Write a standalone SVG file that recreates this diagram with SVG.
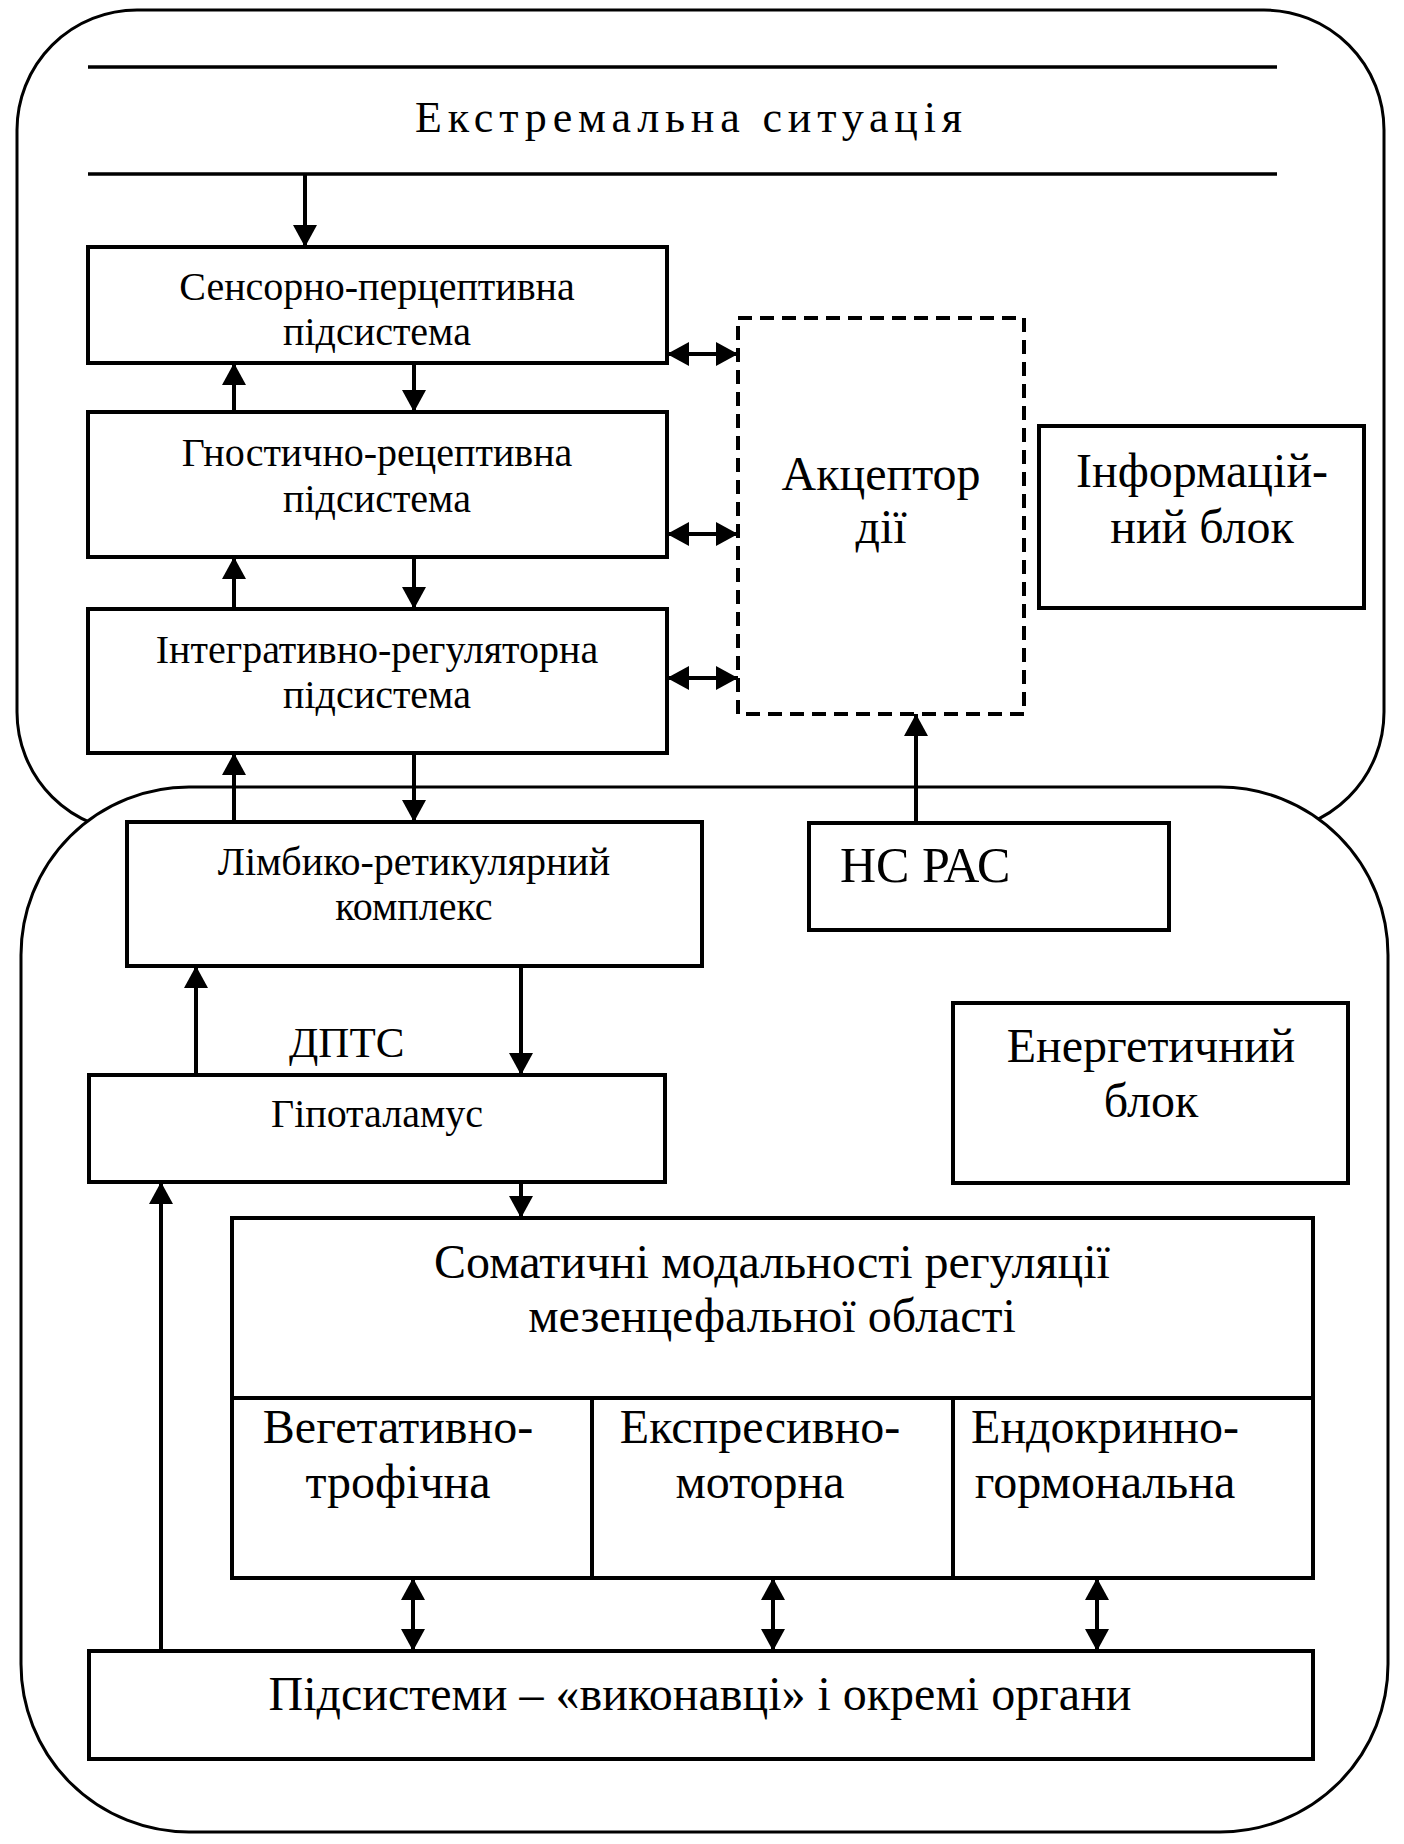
<svg xmlns="http://www.w3.org/2000/svg" width="1404" height="1844" viewBox="0 0 1404 1844">
  <style>
    .frame { fill: #fff; stroke: #000; stroke-width: 3; }
    .box { fill: #fff; stroke: #000; stroke-width: 4; }
    .dash { fill: none; stroke: #000; stroke-width: 4; stroke-dasharray: 14 8; }
    .rule { stroke: #000; stroke-width: 3.5; }
    .con { stroke: #000; stroke-width: 4; fill: none; }
    text { font-family: "Liberation Serif", "Times New Roman", serif; fill: #000; }
    .s { font-size: 40px; text-anchor: middle; }
    .m { font-size: 48px; text-anchor: middle; }
    .l { font-size: 48px; text-anchor: middle; }
  </style>
  <defs>
    <marker id="ah" markerUnits="userSpaceOnUse" markerWidth="24" markerHeight="24" refX="22" refY="12" orient="auto-start-reverse">
      <path d="M0,0 L22,12 L0,24 z" fill="#000"/>
    </marker>
  </defs>

  <g id="frame-top">
    <rect class="frame" x="17" y="10" width="1367" height="822" rx="120" ry="120"/>
  </g>
  <g id="frame-bottom">
    <rect class="frame" x="21" y="787" width="1367" height="1045" rx="168" ry="168"/>
  </g>

  <g id="situation">
    <line class="rule" x1="88" y1="67" x2="1277" y2="67"/>
    <line class="rule" x1="88" y1="174" x2="1277" y2="174"/>
    <text x="415" y="132" font-size="44" textLength="547" lengthAdjust="spacing">Екстремальна ситуація</text>
  </g>

  <g id="sensory">
    <rect class="box" x="88" y="247" width="579" height="116"/>
    <text class="s" x="377" y="300">Сенсорно-перцептивна</text>
    <text class="s" x="377" y="345">підсистема</text>
  </g>
  <g id="gnostic">
    <rect class="box" x="88" y="412" width="579" height="145"/>
    <text class="s" x="377" y="466">Гностично-рецептивна</text>
    <text class="s" x="377" y="512">підсистема</text>
  </g>
  <g id="integrative">
    <rect class="box" x="88" y="609" width="579" height="144"/>
    <text class="s" x="377" y="663">Інтегративно-регуляторна</text>
    <text class="s" x="377" y="708">підсистема</text>
  </g>
  <g id="acceptor">
    <rect class="dash" x="738" y="318" width="286" height="396"/>
    <text class="l" x="881" y="490">Акцептор</text>
    <text class="l" x="881" y="543">дії</text>
  </g>
  <g id="info-block">
    <rect class="box" x="1039" y="426" width="325" height="182"/>
    <text class="l" x="1202" y="487">Інформацій-</text>
    <text class="l" x="1202" y="543">ний блок</text>
  </g>
  <g id="limbic">
    <rect class="box" x="127" y="822" width="575" height="144"/>
    <text class="s" x="414" y="875">Лімбико-ретикулярний</text>
    <text class="s" x="414" y="920">комплекс</text>
  </g>
  <g id="ns-ras">
    <rect class="box" x="809" y="823" width="360" height="107"/>
    <text x="840" y="882" font-size="50">НС РАС</text>
  </g>
  <g id="dpts">
    <text x="289" y="1057" font-size="43">ДПТС</text>
  </g>
  <g id="hypothalamus">
    <rect class="box" x="89" y="1075" width="576" height="107"/>
    <text class="s" x="377" y="1127">Гіпоталамус</text>
  </g>
  <g id="energy-block">
    <rect class="box" x="953" y="1003" width="395" height="180"/>
    <text class="m" x="1151" y="1062">Енергетичний</text>
    <text class="m" x="1151" y="1117">блок</text>
  </g>
  <g id="somatic">
    <rect class="box" x="232" y="1218" width="1081" height="360"/>
    <line class="con" x1="232" y1="1398" x2="1313" y2="1398"/>
    <line class="con" x1="592" y1="1398" x2="592" y2="1578"/>
    <line class="con" x1="953" y1="1398" x2="953" y2="1578"/>
    <text class="m" x="772" y="1278">Соматичні модальності регуляції</text>
    <text class="m" x="772" y="1332">мезенцефальної області</text>
    <text class="m" x="398" y="1443">Вегетативно-</text>
    <text class="m" x="398" y="1498">трофічна</text>
    <text class="m" x="760" y="1443">Експресивно-</text>
    <text class="m" x="760" y="1498">моторна</text>
    <text class="m" x="1105" y="1443">Ендокринно-</text>
    <text class="m" x="1105" y="1498">гормональна</text>
  </g>
  <g id="executors">
    <rect class="box" x="89" y="1651" width="1224" height="108"/>
    <text class="m" x="700" y="1710">Підсистеми – «виконавці» і окремі органи</text>
  </g>

  <g id="connectors">
    <line class="con" x1="305" y1="174" x2="305" y2="247" marker-end="url(#ah)"/>
    <line class="con" x1="234" y1="412" x2="234" y2="363" marker-end="url(#ah)"/>
    <line class="con" x1="414" y1="363" x2="414" y2="412" marker-end="url(#ah)"/>
    <line class="con" x1="234" y1="609" x2="234" y2="557" marker-end="url(#ah)"/>
    <line class="con" x1="414" y1="557" x2="414" y2="609" marker-end="url(#ah)"/>
    <line class="con" x1="234" y1="822" x2="234" y2="753" marker-end="url(#ah)"/>
    <line class="con" x1="414" y1="753" x2="414" y2="822" marker-end="url(#ah)"/>
    <line class="con" x1="667" y1="354" x2="738" y2="354" marker-start="url(#ah)" marker-end="url(#ah)"/>
    <line class="con" x1="667" y1="534" x2="738" y2="534" marker-start="url(#ah)" marker-end="url(#ah)"/>
    <line class="con" x1="667" y1="678" x2="738" y2="678" marker-start="url(#ah)" marker-end="url(#ah)"/>
    <line class="con" x1="916" y1="823" x2="916" y2="714" marker-end="url(#ah)"/>
    <line class="con" x1="196" y1="1075" x2="196" y2="966" marker-end="url(#ah)"/>
    <line class="con" x1="521" y1="966" x2="521" y2="1075" marker-end="url(#ah)"/>
    <line class="con" x1="521" y1="1182" x2="521" y2="1218" marker-end="url(#ah)"/>
    <line class="con" x1="161" y1="1651" x2="161" y2="1182" marker-end="url(#ah)"/>
    <line class="con" x1="413" y1="1578" x2="413" y2="1651" marker-start="url(#ah)" marker-end="url(#ah)"/>
    <line class="con" x1="773" y1="1578" x2="773" y2="1651" marker-start="url(#ah)" marker-end="url(#ah)"/>
    <line class="con" x1="1097" y1="1578" x2="1097" y2="1651" marker-start="url(#ah)" marker-end="url(#ah)"/>
  </g>
</svg>
